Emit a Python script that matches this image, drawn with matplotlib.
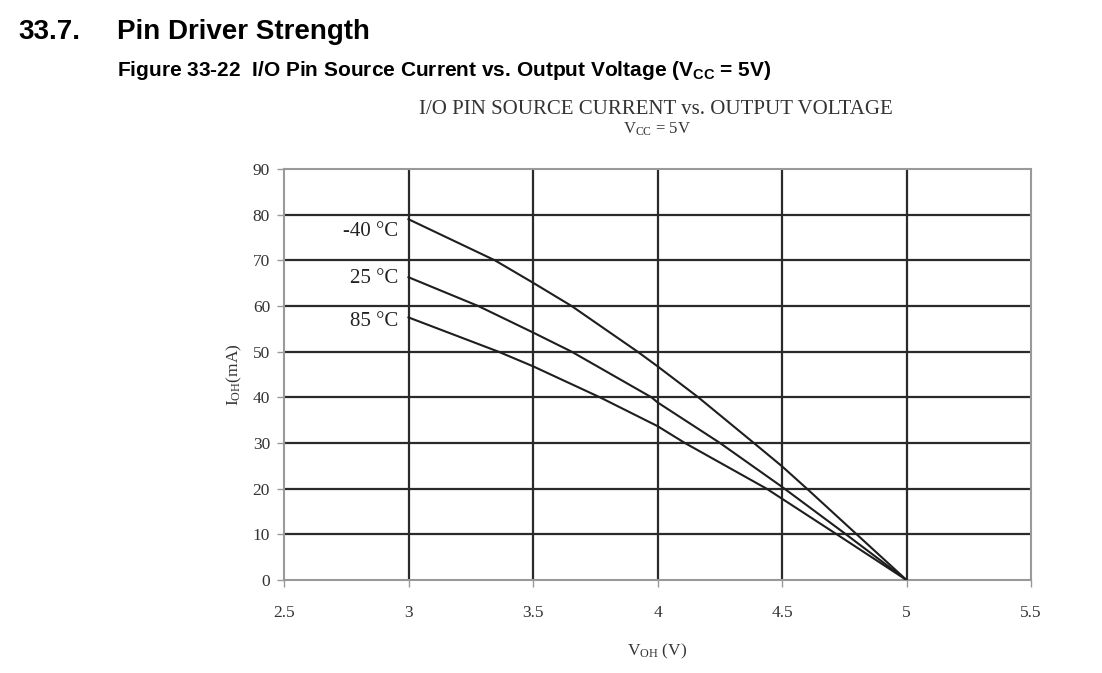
import matplotlib.pyplot as plt

# Опорные точки кривых (V_OH, I_OH)
v_m40 = [3.0, 3.347, 3.5, 3.655, 3.92, 4.0, 4.164, 4.387, 4.5, 4.6, 4.8, 5.0]
i_m40 = [79.0, 70.0, 65.1, 60.0, 50.0, 46.8, 40.0, 30.0, 24.9, 20.0, 10.0, 0.0]

v_25 = [3.0, 3.28, 3.5, 3.655, 3.976, 4.0, 4.251, 4.5, 4.757, 5.0]
i_25 = [66.3, 60.0, 54.2, 50.0, 40.0, 38.9, 30.0, 20.4, 10.0, 0.0]

v_85 = [3.0, 3.361, 3.5, 3.769, 4.0, 4.110, 4.438, 4.5, 4.72, 5.0]
i_85 = [57.5, 50.0, 46.8, 40.0, 33.7, 30.0, 20.0, 17.8, 10.0, 0.0]

temp_labels = ["-40 °C", "25 °C", "85 °C"]
x_ticks = [2.5, 3, 3.5, 4, 4.5, 5, 5.5]
x_tick_labels = ["2.5", "3", "3.5", "4", "4.5", "5", "5.5"]
y_ticks = [0, 10, 20, 30, 40, 50, 60, 70, 80, 90]

SERIF = "Liberation Serif"
SANS = "Liberation Sans"

fig = plt.figure(figsize=(11.02, 6.73), dpi=100)
ax = fig.add_axes([284 / 1102, 1 - 580 / 673, (1031 - 284) / 1102, (580 - 169) / 673])

# сетка
for x in x_ticks[1:-1]:
    ax.axvline(x, color="#2a2a2a", lw=1.6, zorder=1)
for y in y_ticks[1:-1]:
    ax.axhline(y, color="#2a2a2a", lw=1.6, zorder=1)

for v, i in [(v_m40, i_m40), (v_25, i_25), (v_85, i_85)]:
    ax.plot(v, i, color="#1e1e1e", lw=1.5, zorder=3)

# подписи температур
label_y = [76.4, 66.1, 56.7]
for txt, y in zip(temp_labels, label_y):
    ax.text(2.96, y, txt, ha="right", va="center", family=SERIF, fontsize=15, color="#222222")

ax.set_xlim(2.5, 5.5)
ax.set_ylim(0, 90)
ax.set_xticks(x_ticks)
ax.set_xticklabels(x_tick_labels, family=SERIF, fontsize=12.5, color="#333333")
ax.set_yticks(y_ticks)
ax.set_yticklabels([str(t) for t in y_ticks], family=SERIF, fontsize=12.5, color="#333333")
ax.tick_params(axis="both", direction="out", length=5, width=1, color="#999999")
ax.tick_params(axis="x", pad=13)
ax.tick_params(axis="y", pad=5)
for s in ax.spines.values():
    s.set_color("#999999")
    s.set_linewidth(1.5)

ax.set_xlabel(r"$\mathregular{V_{OH}}$ (V)", family=SERIF, fontsize=12.5, color="#333333", labelpad=15)
ax.set_ylabel(r"$\mathregular{I_{OH}}$(mA)", family=SERIF, fontsize=12.5, color="#333333", labelpad=6)

# заголовки
fig.text(18 / 1102, 1 - 32 / 673, "33.7.", family=SANS, weight="bold", fontsize=20, va="center")
fig.text(117 / 1102, 1 - 32 / 673, "Pin Driver Strength", family=SANS, weight="bold", fontsize=20, va="center")
fig.text(117 / 1102, 1 - 70 / 673, r"Figure 33-22  I/O Pin Source Current vs. Output Voltage ($\mathregular{V_{CC}}$ = 5V)",
         family=SANS, weight="bold", fontsize=15, va="center")
fig.text(656 / 1102, 1 - 109 / 673, "I/O PIN SOURCE CURRENT vs. OUTPUT VOLTAGE",
         family=SERIF, fontsize=15, ha="center", va="center", color="#333333")
fig.text(657 / 1102, 1 - 129 / 673, r"$\mathregular{V_{CC}}$ = 5V",
         family=SERIF, fontsize=12, ha="center", va="center", color="#333333")

fig.savefig("out.png", dpi=100)
